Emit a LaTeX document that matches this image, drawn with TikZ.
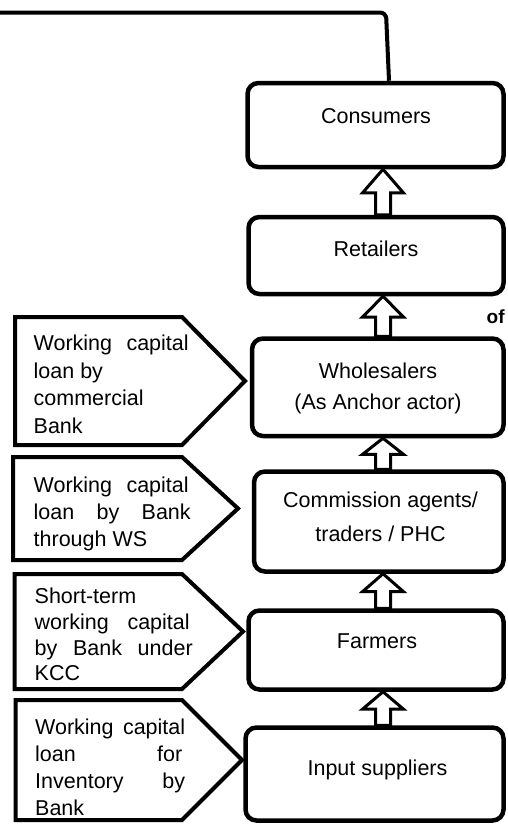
\documentclass[tikz,border=0pt]{standalone}
\usepackage{fontspec}
\setmainfont{Liberation Sans}
\usetikzlibrary{calc}

% upward block arrow from the lower node #1 to the upper node #2
\newcommand\blockup[2]{%
  \path[blockarrow] let \p1=(#1.north -| ax), \p2=(#2.south -| ax),
      \p3=($(\p2)!0.52!(\p1)$) in
    (\x1-7.5pt,\y1) -- (\x1-7.5pt,\y3) -- (\x1-20.5pt,\y3) -- (\x2,\y2)
    -- (\x1+20.5pt,\y3) -- (\x1+7.5pt,\y3) -- (\x1+7.5pt,\y1) -- cycle;}

\begin{document}
\begin{tikzpicture}[x=1pt,y=-1pt,
  mainbox/.style={draw, line width=4.5pt, rounded corners=11pt, fill=white, inner sep=0pt},
  pentagon/.style={draw, line width=4pt, line join=miter, fill=white},
  blockarrow/.style={draw, line width=3pt, fill=white, line join=miter},
  link/.style={draw, line width=4pt, rounded corners=6pt},
  maintext/.style={font=\fontsize{21.5}{26}\selectfont, inner sep=0pt, anchor=base},
  sidetext/.style={inner sep=0pt, align=left, anchor=north west},
]
\fill[white] (0,0) rectangle (507,830);
\useasboundingbox (0,0) rectangle (507,830);

% chain of actors
\node[mainbox, minimum width=256pt,   minimum height=84pt]   (con) at (375.5,125)    {};
\node[mainbox, minimum width=255pt,   minimum height=77pt]   (ret) at (376,255.5)    {};
\node[mainbox, minimum width=251.5pt, minimum height=97.5pt] (who) at (377.75,387.25) {};
\node[mainbox, minimum width=249.5pt, minimum height=100pt]  (com) at (378.75,521.5) {};
\node[mainbox, minimum width=255pt,   minimum height=79pt]   (far) at (376,650)      {};
\node[mainbox, minimum width=258pt,   minimum height=93pt]   (inp) at (374.5,774)    {};

\node[maintext] (contxt) at (376,123)    {Consumers};
\node[maintext] (rettxt) at (376,256.5)  {Retailers};
\node[maintext] (who1)   at (378,378)    {Wholesalers};
\node[maintext] (who2)   at (378,409)    {(As Anchor actor)};
\node[maintext] (com1)   at (380.5,507)  {Commission agents/};
\node[maintext] (com2)   at (380.5,541.5){traders / PHC};
\node[maintext] (fartxt) at (377,648)    {Farmers};
\node[maintext] (inptxt) at (377.5,775)  {Input suppliers};

\node[font=\fontsize{19}{19}\selectfont\bfseries, inner sep=0pt, anchor=base west] (of) at (486.5,323.5) {of};

% block arrows between the actors
\coordinate (ax) at (383,0);
\blockup{ret}{con}
\blockup{who}{ret}
\blockup{com}{who}
\blockup{far}{com}
\blockup{inp}{far}

% line leaving the consumers at the top
\coordinate (lft)  at (-3,12.5);
\coordinate (bend) at (386,12.5);
\coordinate (drop) at (389,0);
\draw[link] (lft) -- (bend) -- (con.north -| drop);

% finance sources
\draw[pentagon] (15,317) -- (182,317) -- (245,381) -- (182,445) -- (15,445) -- cycle;
\draw[pentagon] (13,457) -- (182,457) -- (238,508.5) -- (182,560) -- (13,560) -- cycle;
\draw[pentagon] (14.5,574) -- (182,574) -- (243,631.5) -- (182,689) -- (14.5,689) -- cycle;
\draw[pentagon] (15.5,700) -- (182,700) -- (242,760) -- (182,820) -- (15.5,820) -- cycle;

\node[sidetext, font=\fontsize{21.5}{27.5}\selectfont] (fin1) at (33.5,335)
  {\makebox[155pt][s]{Working capital}\\loan by\\commercial\\Bank};
\node[sidetext, font=\fontsize{21.5}{27.3}\selectfont] (fin2) at (33.5,476.5)
  {\makebox[155pt][s]{Working capital}\\\makebox[157pt][s]{loan by Bank}\\through WS};
\node[sidetext, font=\fontsize{21.5}{25.7}\selectfont] (fin3) at (34.5,588)
  {Short-term\\\makebox[155pt][s]{working capital}\\\makebox[158pt][s]{by Bank under}\\KCC};
\node[sidetext, font=\fontsize{21.5}{27}\selectfont] (fin4) at (35,718.5)
  {\makebox[150pt][s]{Working capital}\\\makebox[147pt][s]{loan for}\\\makebox[150pt][s]{Inventory by}\\Bank};
\end{tikzpicture}
\end{document}
